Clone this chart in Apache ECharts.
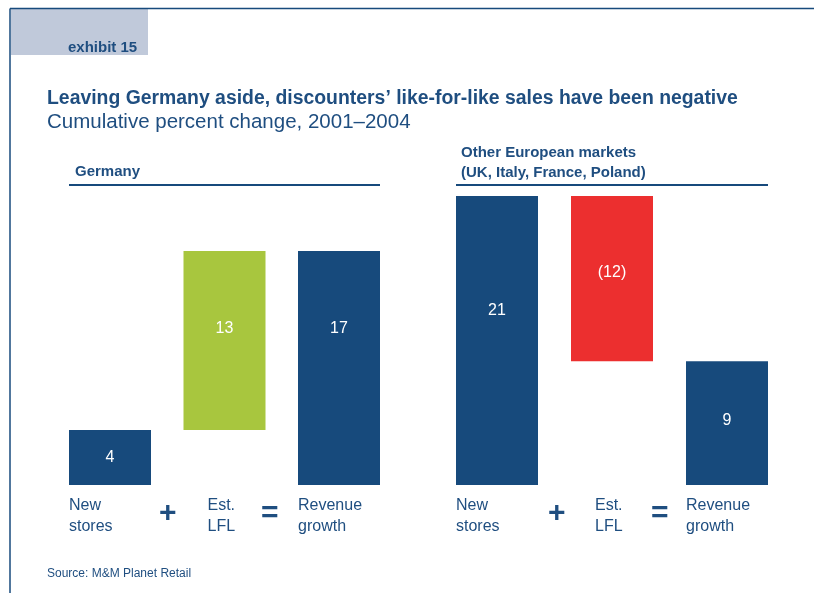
<!DOCTYPE html>
<html>
<head>
<meta charset="utf-8">
<script src="https://cdn.jsdelivr.net/npm/echarts@6/dist/echarts.min.js"></script>
<style>
  html, body { margin: 0; padding: 0; background: #fff; }
  #charts { width: 814px; height: 593px; }
</style>
</head>
<body>
<div id="charts"></div>
<script>
// data
const categories = ['New\nstores', 'Est.\nLFL', 'Revenue\ngrowth'];
const germanyValues = [4, 13, 17];
const otherValues = [21, -12, 9];
const panelTitles = ['Germany', 'Other European markets\n(UK, Italy, France, Poland)'];

const BLUE = '#174a7c';
const TEXT = '#1f4e80';
const FONT = '"Liberation Sans", Arial, sans-serif';

// waterfall: invisible base + visible part
function baseOf(values) {
    return values.map((v, i) => {
        if (i === 1) return v < 0 ? values[0] + v : values[0];
        return 0;
    });
}

// label distance from top of each bar (px)
const labelDist = [[20, 70, 70], [107, 69, 51]];

function panelSeries(values, idx) {
    return [
        {
            type: 'bar', stack: 's' + idx, xAxisIndex: idx, yAxisIndex: idx,
            barWidth: 82, silent: true,
            itemStyle: { color: 'transparent' },
            data: baseOf(values)
        },
        {
            type: 'bar', stack: 's' + idx, xAxisIndex: idx, yAxisIndex: idx,
            barWidth: 82,
            data: values.map((v, i) => ({
                value: Math.abs(v),
                itemStyle: { color: i === 1 ? (v < 0 ? '#ec2f2f' : '#a8c63e') : BLUE },
                label: { distance: labelDist[idx][i] }
            })),
            label: {
                show: true, position: 'insideTop', color: '#fff',
                fontFamily: FONT, fontSize: 16,
                formatter: p => values[p.dataIndex] < 0 ? '(' + Math.abs(values[p.dataIndex]) + ')' : String(values[p.dataIndex])
            }
        }
    ];
}

function xAxis(idx) {
    const base = { width: 82, align: 'left', color: TEXT, fontFamily: FONT, fontSize: 16, lineHeight: 21 };
    return {
        type: 'category', gridIndex: idx, data: categories,
        axisLine: { show: false }, axisTick: { show: false },
        axisLabel: {
            margin: 10, interval: 0,
            formatter: (v, i) => (i === 1 ? '{b|' : '{a|') + v + '}',
            rich: {
                a: base,
                b: Object.assign({}, base, { width: 58, padding: [0, 0, 0, 24] })
            }
        }
    };
}

function yAxis(idx) {
    return {
        type: 'value', gridIndex: idx, min: 0, max: 21,
        show: false, splitLine: { show: false }
    };
}

function sign(txt, x) {
    return {
        type: 'text', left: x, top: 499,
        style: { text: txt, fill: TEXT, font: 'bold 30px ' + FONT }
    };
}

let myChart = echarts.init(document.getElementById('charts'));
myChart.setOption({
    animation: false,
    title: {
        text: 'Leaving Germany aside, discounters\u2019 like-for-like sales have been negative',
        subtext: 'Cumulative percent change, 2001\u20132004',
        left: 47, top: 89, itemGap: 4, padding: 0,
        textStyle: { color: TEXT, fontFamily: FONT, fontSize: 19.4, fontWeight: 'bold' },
        subtextStyle: { color: TEXT, fontFamily: FONT, fontSize: 20.5 }
    },
    grid: [
        { left: 52.75, width: 343.5, top: 196, bottom: 108 },
        { left: 439.5, width: 345, top: 196, bottom: 108 }
    ],
    xAxis: [xAxis(0), xAxis(1)],
    yAxis: [yAxis(0), yAxis(1)],
    series: panelSeries(germanyValues, 0).concat(panelSeries(otherValues, 1)),
    graphic: [
        // frame
        { type: 'rect', shape: { x: 11, y: 9, width: 137, height: 46 }, style: { fill: '#c0c9da' } },
        { type: 'line', shape: { x1: 10, y1: 8.5, x2: 814, y2: 8.5 }, style: { stroke: BLUE, lineWidth: 1.5 } },
        { type: 'line', shape: { x1: 10, y1: 8.5, x2: 10, y2: 593 }, style: { stroke: BLUE, lineWidth: 1.5 } },
        { type: 'text', left: 68, top: 40, style: { text: 'exhibit 15', fill: TEXT, font: 'bold 15px ' + FONT } },
        // panel headers
        { type: 'text', left: 75, top: 164, style: { text: panelTitles[0], fill: TEXT, font: 'bold 15px ' + FONT } },
        { type: 'line', shape: { x1: 69, y1: 185, x2: 380, y2: 185 }, style: { stroke: BLUE, lineWidth: 2 } },
        { type: 'text', left: 461, top: 143, style: { text: panelTitles[1], fill: TEXT, font: 'bold 15px ' + FONT, lineHeight: 20 } },
        { type: 'line', shape: { x1: 456, y1: 185, x2: 768, y2: 185 }, style: { stroke: BLUE, lineWidth: 2 } },
        // operators
        sign('+', 159), sign('=', 261), sign('+', 548), sign('=', 651),
        { type: 'text', left: 47, top: 568, style: { text: 'Source: M&M Planet Retail', fill: TEXT, font: '12px ' + FONT } }
    ]
});
</script>
</body>
</html>
